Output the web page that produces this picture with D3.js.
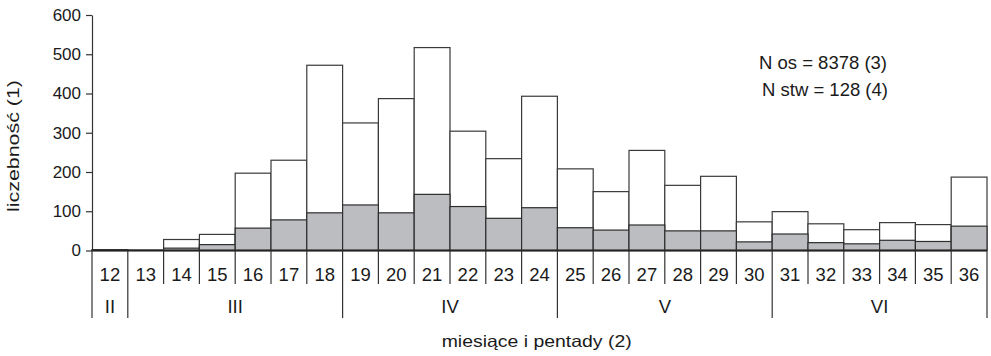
<!DOCTYPE html>
<html>
<head>
<meta charset="utf-8">
<script src="https://cdn.jsdelivr.net/npm/d3@7"></script>
<style>
  html, body { margin: 0; padding: 0; background: #fff; }
  svg { display: block; }
  text { font-family: "Liberation Sans", Arial, Helvetica, sans-serif; fill: #1a1a1a; }
</style>
</head>
<body>
<svg id="chart" width="991" height="356"></svg>
<script>
// ---- data ----
const pentads = [12,13,14,15,16,17,18,19,20,21,22,23,24,25,26,27,28,29,30,31,32,33,34,35,36];
const totalCounts = [2,1,28,41,197,230,472,325,387,517,304,234,393,208,150,255,166,189,73,99,68,53,71,66,187];
const stwCounts   = [1,0,6,15,57,78,96,116,96,143,112,82,109,58,52,65,50,50,22,42,20,17,26,23,62];
const months = [
  {label: "II",  from: 12, to: 12},
  {label: "III", from: 13, to: 18},
  {label: "IV",  from: 19, to: 24},
  {label: "V",   from: 25, to: 30},
  {label: "VI",  from: 31, to: 36}
];
const yTicks = [0,100,200,300,400,500,600];
const yLabel = "liczebność (1)";
const xLabel = "miesiące i pentady (2)";
const notes = ["N os = 8378 (3)", "N stw = 128 (4)"];

// ---- layout ----
const svg = d3.select("#chart");
const mLeft = 92, mRight = 987, mTop = 15, base = 250.5;
const x = d3.scaleBand().domain(pentads).range([mLeft, mRight]).padding(0);
const y = d3.scaleLinear().domain([0, 600]).range([base, mTop]);
const lineCol = "#333";

// bars (total, white)
svg.append("g").selectAll("rect").data(pentads).join("rect")
  .attr("x", d => x(d))
  .attr("width", x.bandwidth())
  .attr("y", (d, i) => y(totalCounts[i]))
  .attr("height", (d, i) => base - y(totalCounts[i]))
  .attr("fill", "#fff")
  .attr("stroke", "#3a3a3a")
  .attr("stroke-width", 1.2);

// bars (stw, grey)
svg.append("g").selectAll("rect").data(pentads).join("rect")
  .attr("x", d => x(d))
  .attr("width", x.bandwidth())
  .attr("y", (d, i) => y(stwCounts[i]))
  .attr("height", (d, i) => base - y(stwCounts[i]))
  .attr("fill", "#bcbdc1")
  .attr("stroke", "#2e2e2e")
  .attr("stroke-width", 1.2);

// y axis
const yAxis = d3.axisLeft(y).tickValues(yTicks).tickSize(6).tickPadding(5).tickSizeOuter(0);
const gy = svg.append("g").attr("transform", `translate(${mLeft},0)`).call(yAxis);
gy.select(".domain").attr("stroke", lineCol).attr("stroke-width", 1.2);
gy.selectAll(".tick line").attr("stroke", lineCol).attr("stroke-width", 1.2);
gy.selectAll(".tick text").attr("font-size", 17).attr("font-family", "Liberation Sans, Arial, sans-serif").attr("fill", "#1a1a1a");

// baseline
svg.append("line").attr("x1", mLeft).attr("x2", mRight).attr("y1", base).attr("y2", base)
  .attr("stroke", "#222").attr("stroke-width", 2);

// separators
const monthStarts = new Set(months.map(m => m.from));
const bounds = pentads.map(p => ({x: x(p), month: monthStarts.has(p)}));
bounds.push({x: mRight, month: true});
svg.append("g").selectAll("line").data(bounds).join("line")
  .attr("x1", d => d.x).attr("x2", d => d.x)
  .attr("y1", base).attr("y2", d => d.month ? 318 : 284)
  .attr("stroke", lineCol).attr("stroke-width", 1.2);

// pentad numbers
svg.append("g").selectAll("text").data(pentads).join("text")
  .attr("x", d => x(d) + x.bandwidth() / 2)
  .attr("y", 280.5)
  .attr("text-anchor", "middle")
  .attr("font-size", 18.5)
  .text(d => d);

// month labels
svg.append("g").selectAll("text").data(months).join("text")
  .attr("x", d => (x(d.from) + x(d.to) + x.bandwidth()) / 2)
  .attr("y", 313.3)
  .attr("text-anchor", "middle")
  .attr("font-size", 18.5)
  .text(d => d.label);

// axis titles
svg.append("text")
  .attr("transform", "translate(19,146) rotate(-90)")
  .attr("text-anchor", "middle")
  .attr("font-size", 16)
  .attr("textLength", 132)
  .attr("lengthAdjust", "spacingAndGlyphs")
  .text(yLabel);

svg.append("text")
  .attr("x", 536.7).attr("y", 347)
  .attr("text-anchor", "middle")
  .attr("font-size", 16.5)
  .attr("textLength", 190)
  .attr("lengthAdjust", "spacingAndGlyphs")
  .text(xLabel);

// notes
svg.append("g").selectAll("text").data(notes).join("text")
  .attr("x", (d, i) => i === 0 ? 823 : 825)
  .attr("y", (d, i) => 69 + i * 26.5)
  .attr("text-anchor", "middle")
  .attr("font-size", 18.5)
  .text(d => d);
</script>
</body>
</html>
